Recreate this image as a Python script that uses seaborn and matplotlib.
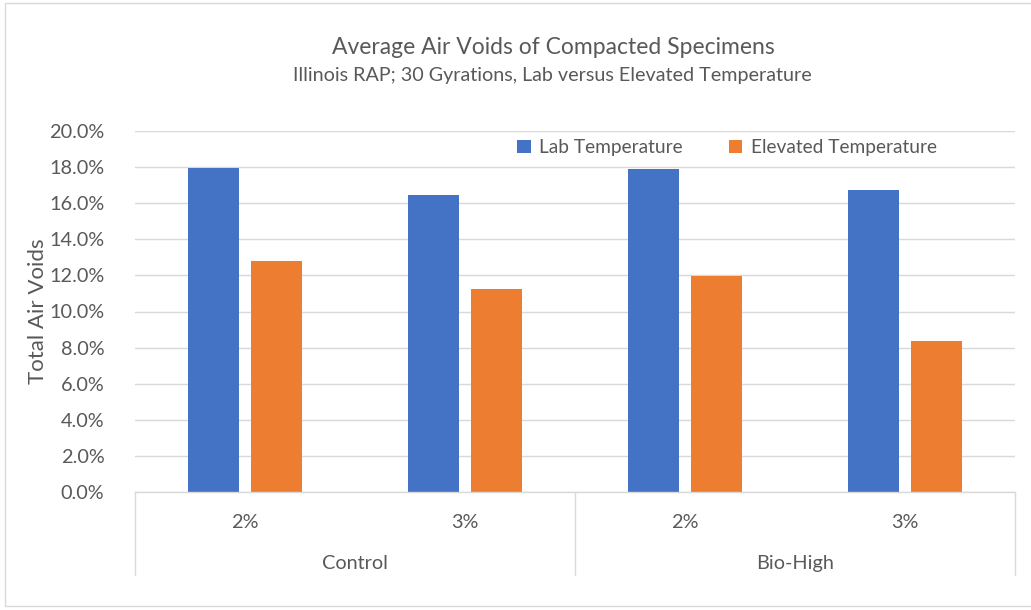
import matplotlib
matplotlib.use("Agg")
import matplotlib.pyplot as plt
import seaborn as sns
import pandas as pd
from matplotlib.patches import Rectangle
from matplotlib.ticker import PercentFormatter

# ---- data ----
groups = ["Control", "Control", "Bio-High", "Bio-High"]
rap = ["2%", "3%", "2%", "3%"]
lab_temp = [0.1795, 0.1645, 0.1790, 0.1673]
elev_temp = [0.1281, 0.1126, 0.1198, 0.0838]
series = ["Lab Temperature", "Elevated Temperature"]
title = "Average Air Voids of Compacted Specimens"
subtitle = "Illinois RAP; 30 Gyrations, Lab versus Elevated Temperature"
ylabel = "Total Air Voids"

cats = [f"{g} {r}" for g, r in zip(groups, rap)]
df = pd.DataFrame({
    "cat": cats * 2,
    "series": [series[0]] * 4 + [series[1]] * 4,
    "value": lab_temp + elev_temp,
})

GRAY = "#595959"
GRID = "#D9D9D9"
sns.set_theme(style="white")
plt.rcParams["font.family"] = ["Lato", "DejaVu Sans"]

fig = plt.figure(figsize=(10.31, 6.10), dpi=100)
ax = fig.add_axes([135 / 1031, 1 - 492 / 610, 880 / 1031, 361 / 610])

sns.barplot(data=df, x="cat", y="value", hue="series", order=cats,
            hue_order=series, palette=["#4472C4", "#ED7D31"],
            width=0.573, gap=0.206, ax=ax, saturation=1, linewidth=0)

ax.set_ylim(0, 0.20)
ax.set_xlim(-0.5, 3.5)
ax.set_yticks([i / 100 for i in range(0, 21, 2)])
ax.yaxis.set_major_formatter(PercentFormatter(1.0, decimals=1))
ax.yaxis.grid(True, color=GRID, linewidth=1.0)
ax.set_axisbelow(True)
for s in ["top", "right", "left"]:
    ax.spines[s].set_visible(False)
ax.spines["bottom"].set_color(GRID)
ax.spines["bottom"].set_linewidth(1.0)
ax.tick_params(axis="y", length=0, labelsize=14.3, labelcolor=GRAY, pad=22)
ax.tick_params(axis="x", length=0, labelsize=14.3, labelcolor=GRAY, pad=16)
ax.set_xticks(range(4))
ax.set_xticklabels(rap)
ax.set_xlabel("")
ax.set_ylabel(ylabel, fontsize=16, color=GRAY)
ax.yaxis.set_label_coords(-0.099, 0.5)

# group labels and separators
trans = matplotlib.transforms.blended_transform_factory(ax.transData, ax.transAxes)
for xg, name in [(0.5, groups[0]), (2.5, groups[2])]:
    ax.text(xg, -0.198, name, transform=trans, ha="center", va="center",
            fontsize=14.3, color=GRAY)
for xs in [-0.5, 1.5, 3.5]:
    ax.plot([xs, xs], [0, -0.23], transform=trans, color=GRID, lw=1.0, clip_on=False)

# legend
leg = ax.legend(loc="center", bbox_to_anchor=(0.673, 0.953), ncol=2, frameon=False,
                fontsize=13.8, handlelength=0.7, handleheight=0.7,
                handletextpad=0.45, columnspacing=2.4)
for t in leg.get_texts():
    t.set_color(GRAY)

fig.text(553 / 1031, 1 - 47 / 610, title, ha="center", va="center", fontsize=16.5, color=GRAY)
fig.text(552 / 1031, 1 - 75 / 610, subtitle, ha="center", va="center", fontsize=14.2, color=GRAY)

fig.patches.append(Rectangle((5 / 1031, 1 - 606 / 610), 1.1, 603 / 610,
                             transform=fig.transFigure, fill=False,
                             edgecolor=GRID, linewidth=1.0))

fig.savefig("out.png", dpi=100)
